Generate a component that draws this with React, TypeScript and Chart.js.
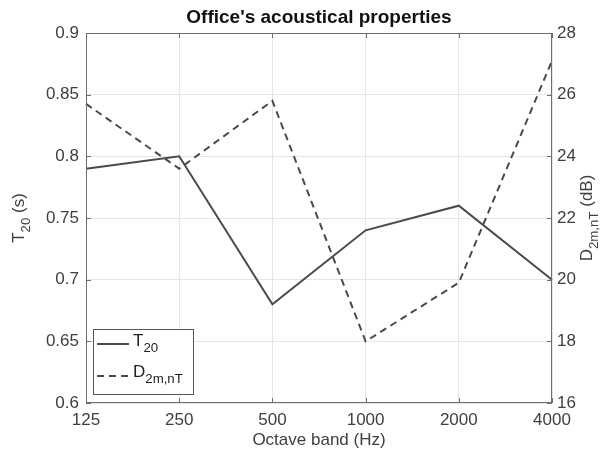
import React, { useEffect, useRef } from "react";
import { Chart, registerables } from "chart.js";

Chart.register(...registerables);

const bands = ["125", "250", "500", "1000", "2000", "4000"];
const t20Values = [0.79, 0.8, 0.68, 0.74, 0.76, 0.7];
const d2mntValues = [25.7, 23.6, 25.8, 18.0, 19.9, 27.1];
const leftRange = [0.6, 0.9];
const rightRange = [16, 28];

const FONT = '"Liberation Sans", Arial, Helvetica, sans-serif';
const TEXT = "#404040";
const LINE = "#4a4a4a";
const FS = 17;

function drawSub(ctx: CanvasRenderingContext2D, x: number, y: number, main: string, sub: string, rest: string, size: number, align: "left" | "center") {
  ctx.save();
  ctx.textBaseline = "middle";
  ctx.textAlign = "left";
  const subSize = size * 0.78;
  ctx.font = `${size}px ${FONT}`;
  const w1 = ctx.measureText(main).width;
  const w3 = ctx.measureText(rest).width;
  ctx.font = `${subSize}px ${FONT}`;
  const w2 = ctx.measureText(sub).width;
  const total = w1 + w2 + w3;
  const sx = align === "center" ? x - total / 2 : x;
  ctx.font = `${size}px ${FONT}`;
  ctx.fillText(main, sx, y);
  ctx.font = `${subSize}px ${FONT}`;
  ctx.fillText(sub, sx + w1, y + size * 0.42);
  ctx.font = `${size}px ${FONT}`;
  ctx.fillText(rest, sx + w1 + w2, y);
  ctx.restore();
}

const decorPlugin = {
  id: "decor",
  afterDraw(chart: any) {
    const ctx: CanvasRenderingContext2D = chart.ctx;
    const { left, right, top, bottom } = chart.chartArea;
    const xs = chart.scales.x;
    const yl = chart.scales.y;
    const yr = chart.scales.y1;
    ctx.save();
    ctx.strokeStyle = "#6e6e6e";
    ctx.lineWidth = 1;
    ctx.strokeRect(left + 0.5, top + 0.5, right - left - 1, bottom - top - 1);
    ctx.beginPath();
    const tl = 5;
    bands.forEach((_, i) => {
      const px = Math.round(xs.getPixelForValue(i)) + 0.5;
      ctx.moveTo(px, bottom);
      ctx.lineTo(px, bottom - tl);
      ctx.moveTo(px, top);
      ctx.lineTo(px, top + tl);
    });
    yl.ticks.forEach((t: any) => {
      const py = Math.round(yl.getPixelForValue(t.value)) + 0.5;
      ctx.moveTo(left, py);
      ctx.lineTo(left + tl, py);
    });
    yr.ticks.forEach((t: any) => {
      const py = Math.round(yr.getPixelForValue(t.value)) + 0.5;
      ctx.moveTo(right, py);
      ctx.lineTo(right - tl, py);
    });
    ctx.stroke();

    ctx.fillStyle = "#111";
    ctx.font = `bold 19px ${FONT}`;
    ctx.textAlign = "center";
    ctx.textBaseline = "middle";
    ctx.fillText("Office's acoustical properties", (left + right) / 2, 18);

    ctx.fillStyle = TEXT;
    ctx.font = `${FS}px ${FONT}`;
    ctx.fillText("Octave band (Hz)", (left + right) / 2, 440);

    ctx.save();
    ctx.translate(19, (top + bottom) / 2);
    ctx.rotate(-Math.PI / 2);
    ctx.fillStyle = TEXT;
    drawSub(ctx, 0, 0, "T", "20", " (s)", FS, "center");
    ctx.restore();

    ctx.save();
    ctx.translate(587, (top + bottom) / 2);
    ctx.rotate(-Math.PI / 2);
    ctx.fillStyle = TEXT;
    drawSub(ctx, 0, 0, "D", "2m,nT", " (dB)", FS, "center");
    ctx.restore();

    const lx = 93.5, ly = 329.5, lw = 100, lh = 65;
    ctx.fillStyle = "#ffffff";
    ctx.fillRect(lx, ly, lw, lh);
    ctx.strokeStyle = "#555";
    ctx.lineWidth = 1;
    ctx.strokeRect(lx, ly, lw, lh);
    ctx.strokeStyle = LINE;
    ctx.lineWidth = 2;
    ctx.beginPath();
    ctx.moveTo(97, 344);
    ctx.lineTo(129, 344);
    ctx.stroke();
    ctx.setLineDash([7, 5]);
    ctx.beginPath();
    ctx.moveTo(97, 376);
    ctx.lineTo(129, 376);
    ctx.stroke();
    ctx.setLineDash([]);
    ctx.fillStyle = "#222";
    drawSub(ctx, 133, 341, "T", "20", "", FS, "left");
    drawSub(ctx, 133, 372, "D", "2m,nT", "", FS, "left");
    ctx.restore();
  },
};

export default function App() {
  const ref = useRef<HTMLCanvasElement | null>(null);
  useEffect(() => {
    if (!ref.current) return;
    const chart = new Chart(ref.current, {
      type: "line",
      data: {
        labels: bands,
        datasets: [
          {
            label: "T20",
            data: t20Values,
            yAxisID: "y",
            borderColor: LINE,
            borderWidth: 2,
            pointRadius: 0,
            fill: false,
            tension: 0,
          },
          {
            label: "D2m,nT",
            data: d2mntValues,
            yAxisID: "y1",
            borderColor: LINE,
            borderWidth: 2,
            borderDash: [7, 5],
            pointRadius: 0,
            fill: false,
            tension: 0,
          },
        ],
      },
      options: {
        responsive: false,
        animation: false,
        layout: { padding: { top: 33, left: 0, right: 0, bottom: 0 } },
        plugins: {
          legend: { display: false },
          title: { display: false },
          tooltip: { enabled: false },
        },
        scales: {
          x: {
            type: "category",
            offset: false,
            grid: { color: "#e6e6e6", drawTicks: false },
            border: { display: false },
            ticks: {
              color: TEXT,
              font: { family: FONT, size: FS },
              padding: 7,
              maxRotation: 0,
              autoSkip: false,
            },
            afterFit: (s: any) => {
              s.height = 51;
            },
          },
          y: {
            type: "linear",
            position: "left",
            min: leftRange[0],
            max: leftRange[1],
            grid: { color: "#e6e6e6", drawTicks: false },
            border: { display: false },
            ticks: {
              stepSize: 0.05,
              color: TEXT,
              font: { family: FONT, size: FS },
              padding: 7,
              callback: (v: any) => String(Math.round(Number(v) * 100) / 100),
            },
            afterFit: (s: any) => {
              s.width = 86;
            },
          },
          y1: {
            type: "linear",
            position: "right",
            min: rightRange[0],
            max: rightRange[1],
            grid: { display: false, drawTicks: false },
            border: { display: false },
            ticks: {
              stepSize: 2,
              color: TEXT,
              font: { family: FONT, size: FS },
              padding: 5,
            },
            afterFit: (s: any) => {
              s.width = 53;
            },
          },
        },
      },
      plugins: [decorPlugin],
    });
    return () => chart.destroy();
  }, []);
  return (
    <div style={{ position: "fixed", left: 0, top: 0, width: 605, height: 454, background: "#fff" }}>
      <canvas ref={ref} width={605} height={454} />
    </div>
  );
}
